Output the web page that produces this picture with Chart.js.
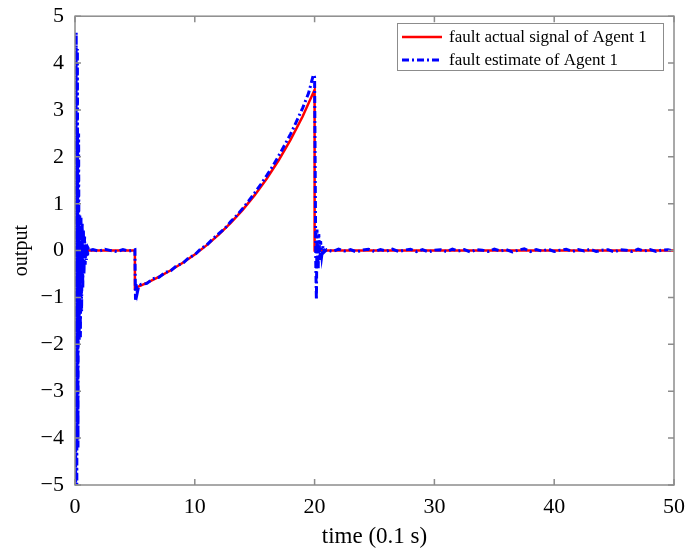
<!DOCTYPE html>
<html>
<head>
<meta charset="utf-8">
<script src="https://cdn.jsdelivr.net/npm/chart.js@4.4.1/dist/chart.umd.min.js"></script>
<style>
  html, body { margin: 0; padding: 0; background: #fff; }
  #wrap { width: 686px; height: 551px; }
</style>
</head>
<body>
<div id="wrap"><canvas id="myChart"></canvas></div>
<script>
// fault actual signal of Agent 1 (red)
var redT = [0, 5, 5, 6, 7, 8, 9, 10, 11, 12, 13, 14, 15, 16, 17, 18, 19, 20, 20, 50];
var redY = [0, 0, -0.8, -0.687, -0.56, -0.419, -0.26, -0.082, 0.117, 0.34, 0.59, 0.87, 1.183, 1.534, 1.927, 2.367, 2.86, 3.43, 0, 0];

// fault estimate of Agent 1 (blue) - start transient, ramp, jump at 20
var blueT = [0, 0.05, 0.1, 0.15, 0.2, 0.25, 0.3, 0.35, 0.4, 0.45, 0.5, 0.55, 0.6, 0.65, 0.7, 0.75, 0.8, 0.85, 0.9, 0.95, 1.0, 1.05, 1.1, 1.2,
             1.5, 2, 2.5, 3, 3.5, 4, 4.5, 5,
             5.05, 5.1, 5.2, 5.3, 5.5, 6, 6.5, 7, 7.5, 8, 8.5, 9, 9.5, 10, 10.5, 11, 11.5, 12, 12.5, 13, 13.5, 14, 14.5, 15,
             15.5, 16, 16.5, 17, 17.5, 18, 18.5, 19, 19.5, 19.9, 20.0,
             20.1, 20.15, 20.2, 20.3, 20.35, 20.45, 20.5, 20.6, 20.7, 20.8];
var blueY = [0, -5.3, 4.65, -5.3, 4.3, -4.2, 2.5, -1.9, 0.75, -1.85, 0.7, -1.3, 0.6, -0.8, 0.45, -0.5, 0.3, -0.3, 0.15, -0.2, 0.1, -0.1, 0.05, 0,
             0.02, -0.01, 0.03, 0, -0.02, 0.02, -0.01, 0.02,
             -1.05, -0.7, -0.9, -0.78, -0.72, -0.7, -0.6, -0.57, -0.47, -0.43, -0.32, -0.27, -0.15, -0.09, 0.04, 0.12, 0.25, 0.36, 0.47, 0.62, 0.75, 0.9, 1.06, 1.23,
             1.41, 1.6, 1.8, 2.02, 2.25, 2.49, 2.76, 3.04, 3.36, 3.75, 3.7,
             -0.3, -1.05, 0.45, -0.4, 0.35, -0.2, 0.2, -0.1, 0.1, -0.03];
// blue residual after t = 21
var tailT = [21, 21.5, 22, 22.5, 23, 23.5, 24, 24.5, 25, 25.5, 26, 26.5, 27, 27.5, 28, 28.5, 29, 29.5, 30, 30.5,
             31, 31.5, 32, 32.5, 33, 33.5, 34, 34.5, 35, 35.5, 36, 36.5, 37, 37.5, 38, 38.5, 39, 39.5, 40, 40.5,
             41, 41.5, 42, 42.5, 43, 43.5, 44, 44.5, 45, 45.5, 46, 46.5, 47, 47.5, 48, 48.5, 49, 49.5, 50];
var tailY = [0.02, -0.02, 0.03, -0.01, 0.02, -0.03, 0.01, 0.03, -0.02, 0.02, -0.01, 0.03, -0.02, 0.01, 0.03, -0.02, 0.02, -0.03, 0.01, 0.02,
             -0.02, 0.03, -0.01, 0.02, -0.03, 0.02, 0.01, -0.02, 0.03, -0.01, 0.02, -0.03, 0.01, 0.04, -0.02, 0.02, -0.01, 0.03, -0.02, 0.01,
             0.03, -0.02, 0.02, -0.01, 0.03, -0.02, 0.01, 0.02, -0.03, 0.02, 0.01, -0.02, 0.03, -0.01, 0.02, -0.02, 0.01, 0.02, -0.01];

var xTicks = [0, 10, 20, 30, 40, 50];
var yTicks = [-5, -4, -3, -2, -1, 0, 1, 2, 3, 4, 5];

var FONT = '"Liberation Serif", "Times New Roman", serif';

function pts(t, y) {
    var out = [];
    for (var i = 0; i < t.length; i++) {
        out.push({x: t[i], y: y[i]});
    }
    return out;
}

function minus(v) {
    return v < 0 ? '\u2212' + Math.abs(v) : '' + v;
}

// box around the plot + inward ticks (matlab style)
var frame = {
    id: 'frame',
    afterDatasetsDraw: function(chart) {
        var ctx = chart.ctx;
        var a = chart.chartArea;
        var xs = chart.scales.x, ys = chart.scales.y;
        ctx.save();
        ctx.strokeStyle = '#8c8c8c';
        ctx.lineWidth = 1.5;
        ctx.setLineDash([]);
        ctx.strokeRect(a.left, a.top, a.right - a.left, a.bottom - a.top);
        ctx.beginPath();
        xTicks.forEach(function(v) {
            var px = xs.getPixelForValue(v);
            ctx.moveTo(px, a.bottom); ctx.lineTo(px, a.bottom - 6);
            ctx.moveTo(px, a.top); ctx.lineTo(px, a.top + 6);
        });
        yTicks.forEach(function(v) {
            var py = ys.getPixelForValue(v);
            ctx.moveTo(a.left, py); ctx.lineTo(a.left + 6, py);
            ctx.moveTo(a.right, py); ctx.lineTo(a.right - 6, py);
        });
        ctx.stroke();
        ctx.restore();
    }
};

// legend box inside the plot, top right
var legendBox = {
    id: 'legendBox',
    afterDraw: function(chart) {
        var ctx = chart.ctx;
        var ds = chart.data.datasets;
        var x0 = 397, y0 = 23, w = 266, h = 47;
        ctx.save();
        ctx.fillStyle = '#fff';
        ctx.fillRect(x0, y0, w, h);
        ctx.strokeStyle = '#8c8c8c';
        ctx.lineWidth = 1;
        ctx.strokeRect(x0 + 0.5, y0 + 0.5, w, h);
        ctx.font = '17px ' + FONT;
        ctx.textBaseline = 'middle';
        for (var i = 0; i < ds.length; i++) {
            var yy = y0 + 14 + i * 23;
            ctx.beginPath();
            ctx.strokeStyle = ds[i].borderColor;
            ctx.lineWidth = ds[i].borderWidth;
            ctx.setLineDash(ds[i].borderDash || []);
            ctx.moveTo(x0 + 5, yy);
            ctx.lineTo(x0 + 45, yy);
            ctx.stroke();
            ctx.setLineDash([]);
            ctx.fillStyle = '#000';
            ctx.fillText(ds[i].label, x0 + 52, yy + 1);
        }
        ctx.restore();
    }
};

const ctx = document.getElementById('myChart').getContext('2d');
const myChart = new Chart(ctx, {
    type: 'line',
    data: {
        datasets: [
            {
                label: 'fault actual signal of Agent 1',
                data: pts(redT, redY),
                borderColor: '#ff0000',
                borderWidth: 2.5,
                pointRadius: 0,
                tension: 0,
                order: 1
            },
            {
                label: 'fault estimate of Agent 1',
                data: pts(blueT, blueY).concat(pts(tailT, tailY)),
                borderColor: '#0000ff',
                borderWidth: 3,
                borderDash: [7, 3, 2, 3],
                pointRadius: 0,
                tension: 0,
                order: 0
            }
        ]
    },
    options: {
        responsive: true,
        maintainAspectRatio: false,
        animation: false,
        layout: { padding: { top: 1, right: 9, left: 0, bottom: 0 } },
        plugins: {
            legend: { display: false },
            tooltip: { enabled: false }
        },
        scales: {
            x: {
                type: 'linear',
                min: 0,
                max: 50,
                afterBuildTicks: function(s) { s.ticks = xTicks.map(function(v) { return {value: v}; }); },
                afterFit: function(s) { s.height = 66; },
                grid: { display: false },
                border: { display: false },
                ticks: {
                    color: '#000',
                    padding: 1,
                    font: { family: FONT, size: 22 },
                    maxRotation: 0,
                    callback: function(v) { return minus(v); }
                },
                title: {
                    display: true,
                    text: 'time (0.1 s)',
                    color: '#000',
                    font: { family: FONT, size: 23 },
                    padding: { top: 3, bottom: 0 }
                }
            },
            y: {
                min: -5,
                max: 5,
                afterBuildTicks: function(s) { s.ticks = yTicks.map(function(v) { return {value: v}; }); },
                afterFit: function(s) { s.width = 75; },
                grid: { display: false },
                border: { display: false },
                ticks: {
                    color: '#000',
                    padding: 3,
                    font: { family: FONT, size: 22 },
                    callback: function(v) { return minus(v); }
                },
                title: {
                    display: true,
                    text: 'output',
                    color: '#000',
                    font: { family: FONT, size: 20 },
                    padding: { top: 10, bottom: 0 }
                }
            }
        }
    },
    plugins: [frame, legendBox]
});
</script>
</body>
</html>
